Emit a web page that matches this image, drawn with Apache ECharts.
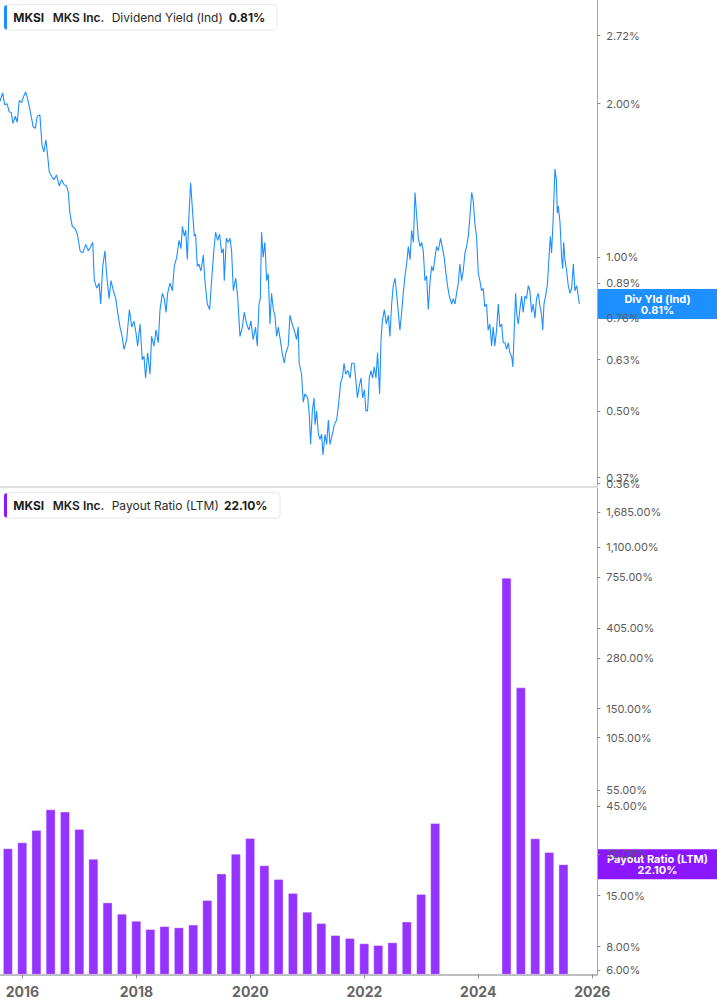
<!DOCTYPE html>
<html>
<head>
<meta charset="utf-8">
<script src="https://cdn.jsdelivr.net/npm/echarts@6/dist/echarts.min.js"></script>
<style>
  html, body { margin: 0; padding: 0; background: #fff; }
  #chart { width: 717px; height: 1005px; }
</style>
</head>
<body>
<div id="chart"></div>
<script>
// dividend yield (Ind), %
const divDates = [
  '2015-09-11','2015-09-28','2015-10-11','2015-10-26','2015-11-08','2015-11-22','2015-12-02','2015-12-17','2015-12-29',
  '2016-01-11','2016-01-26','2016-02-05','2016-02-20','2016-03-06','2016-03-22','2016-04-08','2016-04-21','2016-05-03','2016-05-20',
  '2016-06-02','2016-06-14','2016-06-27','2016-07-07','2016-07-18','2016-08-02','2016-08-16','2016-09-02','2016-09-19','2016-10-04',
  '2016-10-18','2016-11-04','2016-11-15','2016-11-25','2016-12-10','2016-12-27',
  '2017-01-11','2017-01-28','2017-02-14','2017-03-05','2017-03-21','2017-04-05','2017-04-18','2017-04-28','2017-05-13','2017-05-28',
  '2017-06-07','2017-06-20','2017-07-04','2017-07-15','2017-07-30','2017-08-11','2017-08-26','2017-09-10','2017-09-22','2017-10-07',
  '2017-10-20','2017-11-01','2017-11-18','2017-12-05','2017-12-20',
  '2018-01-03','2018-01-16','2018-01-26','2018-02-10','2018-02-24','2018-03-07','2018-03-17','2018-03-30','2018-04-14','2018-04-24',
  '2018-05-09','2018-05-22','2018-06-05','2018-06-16','2018-07-01','2018-07-13','2018-07-24','2018-08-03','2018-08-18','2018-09-02',
  '2018-09-14','2018-09-29','2018-10-14','2018-10-26','2018-11-04','2018-11-16','2018-11-25','2018-12-05','2018-12-16','2018-12-26',
  '2019-01-05','2019-01-18','2019-01-26','2019-02-06','2019-02-16','2019-03-01','2019-03-16','2019-03-26','2019-04-10','2019-04-25',
  '2019-05-07','2019-05-20','2019-06-01','2019-06-14','2019-06-27','2019-07-09','2019-07-20','2019-07-26','2019-08-08','2019-08-20',
  '2019-08-31','2019-09-10','2019-09-21','2019-10-06','2019-10-18','2019-11-02','2019-11-17','2019-11-29','2019-12-14','2019-12-29',
  '2020-01-10','2020-01-24','2020-02-08','2020-02-19','2020-03-01','2020-03-09','2020-03-17','2020-03-27','2020-04-07','2020-04-18',
  '2020-04-28','2020-05-09','2020-05-19','2020-05-30','2020-06-09','2020-06-20','2020-06-30','2020-07-13','2020-07-25','2020-08-07',
  '2020-08-17','2020-09-01','2020-09-12','2020-09-26','2020-10-09','2020-10-24','2020-11-03','2020-11-09','2020-11-24','2020-12-05',
  '2020-12-15',
  '2021-01-02','2021-01-12','2021-01-20','2021-01-31','2021-02-11','2021-02-17','2021-02-27','2021-03-10','2021-03-20','2021-03-31',
  '2021-04-08','2021-04-21','2021-05-01','2021-05-12','2021-05-22','2021-06-06','2021-06-19','2021-07-03','2021-07-14','2021-07-29',
  '2021-08-08','2021-08-19','2021-08-29','2021-09-11','2021-09-26','2021-10-06','2021-10-21','2021-10-31','2021-11-11','2021-11-23',
  '2021-12-04','2021-12-14','2021-12-25',
  '2022-01-04','2022-01-14','2022-01-25','2022-02-05','2022-02-15','2022-02-25','2022-03-08','2022-03-18','2022-03-31','2022-04-09',
  '2022-04-17','2022-04-30','2022-05-12','2022-05-25','2022-06-04','2022-06-15','2022-06-25','2022-07-06','2022-07-16','2022-07-27',
  '2022-08-06','2022-08-17','2022-08-27','2022-09-07','2022-09-17','2022-09-28','2022-10-09','2022-10-19','2022-10-30','2022-11-09',
  '2022-11-20','2022-11-30','2022-12-11','2022-12-21','2022-12-31',
  '2023-01-11','2023-01-21','2023-02-01','2023-02-11','2023-02-22','2023-03-04','2023-03-15','2023-03-25','2023-04-05','2023-04-19',
  '2023-05-02','2023-05-12','2023-05-23','2023-06-02','2023-06-13','2023-06-28','2023-07-08','2023-07-19','2023-07-29','2023-08-09',
  '2023-08-19','2023-08-30','2023-09-09','2023-09-20','2023-09-30','2023-10-11','2023-10-21','2023-11-01','2023-11-11','2023-11-22',
  '2023-12-02','2023-12-13','2023-12-23',
  '2024-01-02','2024-01-13','2024-01-23','2024-02-03','2024-02-13','2024-02-24','2024-03-06','2024-03-16','2024-03-26','2024-04-06',
  '2024-04-17','2024-04-27','2024-05-08','2024-05-18','2024-05-29','2024-06-08','2024-06-19','2024-06-29','2024-07-10','2024-07-18',
  '2024-07-27','2024-08-04','2024-08-12','2024-08-21','2024-08-31','2024-09-11','2024-09-21','2024-10-02','2024-10-12','2024-10-23',
  '2024-11-02','2024-11-13','2024-11-23','2024-12-04','2024-12-14','2024-12-25',
  '2025-01-05','2025-01-15','2025-01-22','2025-01-30','2025-02-09','2025-02-20','2025-03-02','2025-03-11','2025-03-19','2025-03-29',
  '2025-04-09','2025-04-18','2025-04-24','2025-04-30','2025-05-11','2025-05-21','2025-05-28','2025-06-03','2025-06-11','2025-06-22',
  '2025-07-02','2025-07-13','2025-07-23','2025-08-03','2025-08-13','2025-08-24','2025-09-03','2025-09-10'
];
const divYield = [
  2.02, 2.10, 1.99, 2.00, 1.93, 1.92, 1.83, 1.89, 1.84,
  2.03, 2.01, 2.06, 2.11, 2.03, 1.92, 1.80, 1.79, 1.89, 1.90,
  1.66, 1.61, 1.70, 1.59, 1.47, 1.44, 1.42, 1.45, 1.38, 1.42,
  1.39, 1.38, 1.34, 1.22, 1.15, 1.14,
  1.11, 1.03, 1.02, 1.06, 1.03, 1.05, 1.07, 0.90, 0.87, 0.89,
  0.81, 0.96, 1.03, 0.92, 0.83, 0.90, 0.86, 0.83, 0.78, 0.73,
  0.70, 0.66, 0.69, 0.79, 0.73,
  0.75, 0.71, 0.67, 0.74, 0.63, 0.64, 0.58, 0.65, 0.59, 0.70,
  0.67, 0.72, 0.68, 0.79, 0.85, 0.83, 0.78, 0.85, 0.89, 0.86,
  0.96, 1.00, 1.08, 1.04, 1.15, 1.10, 1.13, 0.99, 1.22, 1.40,
  1.26, 1.10, 1.11, 0.96, 0.97, 0.94, 1.01, 0.90, 0.81, 0.79,
  0.90, 1.02, 1.12, 1.08, 1.11, 1.02, 1.04, 0.90, 1.09, 1.07,
  1.09, 1.03, 0.86, 0.91, 0.84, 0.70, 0.73, 0.78, 0.74, 0.72,
  0.75, 0.69, 0.73, 0.67, 0.81, 0.83, 1.12, 1.00, 1.07, 0.90,
  0.93, 0.74, 0.85, 0.79, 0.77, 0.70, 0.73, 0.69, 0.65, 0.62,
  0.65, 0.67, 0.77, 0.74, 0.72, 0.69, 0.73, 0.62, 0.59, 0.52,
  0.54,
  0.53, 0.49, 0.43, 0.50, 0.53, 0.47, 0.50, 0.45, 0.44, 0.45,
  0.41, 0.45, 0.43, 0.48, 0.43, 0.45, 0.47, 0.48, 0.51, 0.57,
  0.58, 0.62, 0.59, 0.60, 0.58, 0.62, 0.62, 0.58, 0.53, 0.56,
  0.58, 0.53, 0.55,
  0.50, 0.50, 0.58, 0.60, 0.58, 0.61, 0.58, 0.65, 0.54, 0.69,
  0.75, 0.79, 0.74, 0.77, 0.70, 0.81, 0.88, 0.91, 0.85, 0.78,
  0.72, 0.78, 0.85, 0.92, 0.97, 1.05, 0.99, 1.13, 1.07, 1.34,
  1.20, 1.09, 1.05, 1.07, 1.03,
  0.90, 0.92, 0.79, 0.89, 0.96, 0.94, 1.00, 1.05, 1.03, 1.09,
  1.04, 1.00, 0.93, 0.88, 0.84, 0.81, 0.83, 0.81, 0.85, 0.89,
  0.97, 0.90, 0.94, 1.02, 1.05, 1.10, 1.20, 1.34, 1.29, 1.16,
  1.10, 0.93, 0.90,
  0.86, 0.87, 0.80, 0.81, 0.72, 0.74, 0.67, 0.73, 0.67, 0.72,
  0.81, 0.73, 0.74, 0.68, 0.68, 0.66, 0.68, 0.65, 0.64, 0.61,
  0.73, 0.85, 0.77, 0.74, 0.79, 0.84, 0.78, 0.84, 0.83, 0.88,
  0.86, 0.78, 0.81, 0.76, 0.83, 0.85,
  0.80, 0.77, 0.72, 0.81, 0.84, 0.88, 0.99, 1.10, 1.02, 1.19,
  1.49, 1.42, 1.22, 1.26, 1.17, 1.00, 0.95, 1.07, 0.99, 0.94,
  0.88, 0.85, 0.87, 0.97, 0.86, 0.88, 0.84, 0.81
];

// payout ratio (LTM), % per quarter end; null = not shown (negative earnings)
const payoutDates = [
  '2015-09-30','2015-12-31',
  '2016-03-31','2016-06-30','2016-09-30','2016-12-31',
  '2017-03-31','2017-06-30','2017-09-30','2017-12-31',
  '2018-03-31','2018-06-30','2018-09-30','2018-12-31',
  '2019-03-31','2019-06-30','2019-09-30','2019-12-31',
  '2020-03-31','2020-06-30','2020-09-30','2020-12-31',
  '2021-03-31','2021-06-30','2021-09-30','2021-12-31',
  '2022-03-31','2022-06-30','2022-09-30','2022-12-31',
  '2023-03-31','2023-06-30','2023-09-30','2023-12-31',
  '2024-03-31','2024-06-30','2024-09-30','2024-12-31',
  '2025-03-31','2025-06-30'
];
const payoutRatio = [
  26.9, 28.9,
  33.7, 43.4, 42.2, 34.1,
  23.6, 13.8, 12.0, 11.0,
  9.94, 10.3, 10.15, 10.5,
  14.2, 19.7, 25.1, 30.5,
  21.8, 18.4, 15.5, 12.3,
  10.7, 9.23, 8.90, 8.34,
  8.16, 8.44, 10.9, 15.3,
  36.7, null, null, null,
  null, 753, 195, 30.4,
  25.7, 22.1
];

const divTicks = [2.72, 2.00, 1.00, 0.89, 0.76, 0.63, 0.50, 0.37, 0.36];
const payoutTicks = [1685, 1100, 755, 405, 280, 150, 105, 55, 45, 25, 15, 8, 6];
const yearTicks = ['2016-01-01', '2018-01-01', '2020-01-01', '2022-01-01', '2024-01-01', '2026-01-01'];

const FONT = 'Inter, Roboto, "DejaVu Sans", sans-serif';
const BLUE = '#1e8fff';
const PURPLE = '#9534ff';
const TAG_PURPLE = '#8a17ff';

function pct(v) {
  return Number(v).toLocaleString('en-US', { minimumFractionDigits: 2, maximumFractionDigits: 2 }) + '%';
}

// echarts drops the end label when the two last labels touch (0.37 / 0.36),
// so the second-to-last tick is moved up front: same ticks, other order
function tickOrder(ticks) {
  const n = ticks.length;
  return [ticks[0], ticks[n - 2]].concat(ticks.slice(1, n - 2), [ticks[n - 1]]);
}

const chart = echarts.init(document.getElementById('chart'), null, { renderer: 'svg' });

function yAxisFor(grid, min, max, ticks) {
  const vals = tickOrder(ticks);
  return {
    type: 'log',
    gridIndex: grid,
    position: 'right',
    min: min,
    max: max,
    splitLine: { show: false },
    axisLine: { show: true, lineStyle: { color: '#a8a8a8', width: 1 } },
    axisTick: { show: true, length: 3, customValues: vals, lineStyle: { color: '#8a8a8a' } },
    axisLabel: {
      customValues: vals,
      formatter: pct,
      color: '#5c5c5c',
      fontSize: 11,
      fontFamily: FONT,
      margin: 9,
      hideOverlap: false
    }
  };
}

const lastDiv = divYield[divYield.length - 1];
const lastPayout = payoutRatio[payoutRatio.length - 1];

chart.setOption({
  animation: false,
  backgroundColor: '#fff',
  grid: [
    { left: 0, right: 119.7, top: 0, height: 487 },
    { left: 0, right: 119.7, top: 488, bottom: 30.7 }
  ],
  xAxis: [
    {
      type: 'time',
      gridIndex: 0,
      min: '2015-09-11 12:00',
      max: '2026-01-01',
      axisLine: { show: true, lineStyle: { color: '#dedede', width: 2 } },
      axisTick: { show: false },
      axisLabel: { show: false },
      splitLine: { show: false }
    },
    {
      type: 'time',
      gridIndex: 1,
      min: '2015-09-11 12:00',
      max: '2026-01-01',
      axisLine: { show: true, lineStyle: { color: '#a8a8a8', width: 1.5 } },
      axisTick: { show: true, length: 4, customValues: yearTicks, lineStyle: { color: '#8a8a8a' } },
      axisLabel: {
        customValues: yearTicks,
        formatter: '{yyyy}',
        color: '#666',
        fontSize: 14,
        fontWeight: 'bold',
        fontFamily: FONT,
        margin: 10,
        showMinLabel: true,
        showMaxLabel: true
      },
      splitLine: { show: false }
    }
  ],
  yAxis: [
    yAxisFor(0, 0.3547, 3.194, divTicks),
    yAxisFor(1, 5.69, 2272, payoutTicks)
  ],
  series: [
    {
      name: 'Dividend Yield (Ind)',
      type: 'line',
      xAxisIndex: 0,
      yAxisIndex: 0,
      showSymbol: false,
      symbol: 'none',
      lineStyle: { color: BLUE, width: 1.1 },
      data: divDates.map((d, i) => [d, divYield[i]])
    },
    {
      name: 'Payout Ratio (LTM)',
      type: 'bar',
      xAxisIndex: 1,
      yAxisIndex: 1,
      barWidth: 10,
      itemStyle: { color: PURPLE, borderColor: 'rgba(255,255,255,0.35)', borderWidth: 1 },
      data: payoutDates.map((d, i) => [d, payoutRatio[i] == null ? '-' : payoutRatio[i]])
    }
  ]
});

function legendBox(y, color, metric, value, metricX, valueX, width) {
  const cy = y + 12.7;
  const txt = (x, s, weight, col) => ({
    type: 'text', x: x, y: cy,
    style: { text: s, font: weight + ' 12px ' + FONT, fill: col, textVerticalAlign: 'middle' }
  });
  return {
    type: 'group', z: 100,
    children: [
      { type: 'rect', shape: { x: 4, y: y, width: width, height: 25.3, r: 3 },
        style: { fill: '#fff', stroke: '#e8e8e8', lineWidth: 1 } },
      { type: 'rect', shape: { x: 4, y: y + 0.5, width: 3, height: 24.3, r: [3, 0, 0, 3] },
        style: { fill: color } },
      txt(13.3, 'MKSI', 'bold', '#1c1c1c'),
      txt(52.7, 'MKS Inc.', '600', '#1c1c1c'),
      txt(metricX, metric, 'normal', '#2a2a2a'),
      txt(valueX, value, 'bold', '#1c1c1c')
    ]
  };
}

function valueTag(yValue, axisIndex, color, line1, line2) {
  const y = chart.convertToPixel({ yAxisIndex: axisIndex }, yValue);
  return {
    type: 'group', z: 100, x: 598, y: y - 15,
    children: [
      { type: 'rect', shape: { x: 0, y: 0, width: 119, height: 30 }, style: { fill: color } },
      { type: 'text', x: 59.5, y: 15,
        style: { text: line1 + '\n' + line2, font: 'bold 11px ' + FONT, fill: '#fff',
                 align: 'center', verticalAlign: 'middle', lineHeight: 11 } }
    ]
  };
}

chart.setOption({
  graphic: [
    legendBox(4.7, BLUE, 'Dividend Yield (Ind)', pct(lastDiv), 111.7, 228.7, 273),
    legendBox(492.7, TAG_PURPLE, 'Payout Ratio (LTM)', pct(lastPayout), 111.7, 224, 276),
    valueTag(lastDiv, 0, BLUE, 'Div Yld (Ind)', pct(lastDiv)),
    valueTag(lastPayout, 1, TAG_PURPLE, 'Payout Ratio (LTM)', pct(lastPayout))
  ]
});
</script>
</body>
</html>
